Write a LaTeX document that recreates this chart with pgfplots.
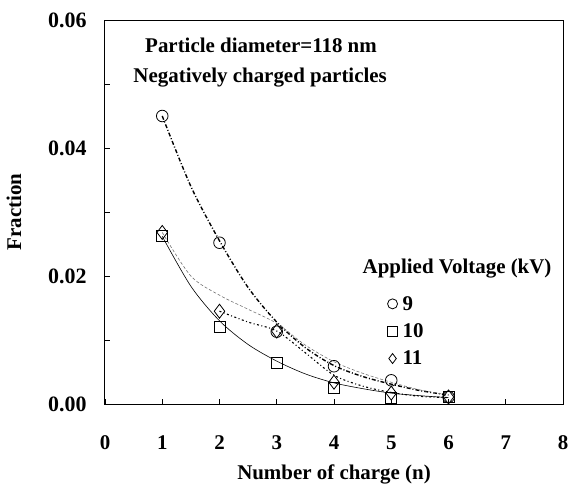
\documentclass[border=0pt]{standalone}
\usepackage{fontspec}
\setmainfont{Liberation Serif}
\usepackage{pgfplots}
\pgfplotsset{compat=1.18}
\begin{document}
\begin{tikzpicture}
\begin{axis}[
  scale only axis,
  width=458bp, height=384bp,
  xmin=0, xmax=8, ymin=0, ymax=0.06,
  axis lines=box,
  clip=false,
  tick align=inside,
  xtick={0,1,...,8},
  ytick={0,0.02,0.04,0.06},
  minor ytick={0.01,0.03,0.05},
  major tick length=5bp, minor tick length=5bp,
  xtick pos=bottom, ytick pos=left,
  tick style={black, line width=0.8pt},
  axis line style={line width=1pt},
  /pgf/number format/assume math mode=true,
  yticklabel style={/pgf/number format/fixed, /pgf/number format/precision=2, /pgf/number format/fixed zerofill, xshift=-15bp, font=\fontsize{22}{24}\selectfont\bfseries},
  scaled y ticks=false,
  xticklabel style={yshift=-28bp, font=\fontsize{21}{24}\selectfont\bfseries},
  xlabel={Number of charge (n)},
  ylabel={Fraction},
  label style={font=\fontsize{21}{24}\selectfont\bfseries},
  xlabel style={yshift=-8bp},
  ylabel style={yshift=20bp},
  legend style={draw=none, fill=none, at={(axis cs:4.88,0.0175)}, anchor=north west,
    font=\fontsize{21}{24}\selectfont\bfseries, row sep=8bp,
    /tikz/every odd column/.append style={column sep=3bp}},
  legend cell align=left,
  legend image post style={mark size=5bp},
  mark options={solid, fill=white, line width=0.8pt},
]
% fitted curves
\addplot[forget plot, black, line width=1.4pt, dash pattern=on 4pt off 2pt on 1pt off 2pt, smooth] coordinates {
 (1,0.045) (1.5,0.034) (2,0.0255) (2.5,0.0182) (3,0.0128) (3.5,0.0088) (4,0.0060) (4.5,0.0043) (5,0.0031) (5.5,0.0021) (6,0.0014)};
\addplot[forget plot, black, line width=0.6pt, smooth] coordinates {
 (1,0.0262) (1.5,0.0184) (2,0.0130) (2.5,0.0093) (3,0.0067) (3.5,0.0047) (4,0.0033) (4.5,0.0024) (5,0.0017) (5.5,0.0013) (6,0.0010)};
\addplot[forget plot, black!55, line width=0.6pt, dash pattern=on 3pt off 2pt, smooth] coordinates {
 (1,0.0268) (1.5,0.0200) (2,0.0170) (2.5,0.0148) (3,0.0126) (3.5,0.0092) (4,0.0066) (4.5,0.0048) (5,0.0034) (5.5,0.0022) (6,0.0014)};
\addplot[forget plot, black, line width=1.1pt, dash pattern=on 2pt off 2.5pt on 1pt off 2.5pt, smooth] coordinates {
 (2,0.0145) (2.5,0.0128) (3,0.0114) (3.5,0.0080) (4,0.0045) (4.5,0.0028) (5,0.0018) (5.5,0.0012) (6,0.0010)};
% data points
\addplot[only marks, mark=o, mark size=5.8bp, black] coordinates {
 (1,0.045) (2,0.0252) (3,0.0113) (4,0.0059) (5,0.0037) (6,0.0011)};
\addlegendentry{9}
\addplot[only marks, mark=square, mark size=5.6bp, black] coordinates {
 (1,0.0263) (2,0.0121) (3,0.0064) (4,0.0025) (5,0.0010) (6,0.0011)};
\addlegendentry{10}
\addplot[only marks, mark=diamond, mark size=7bp, black] coordinates {
 (1,0.0268) (2,0.0145) (3,0.0114) (4,0.0034) (5,0.0017) (6,0.0011)};
\addlegendentry{11}
\node[font=\fontsize{21}{24}\selectfont\bfseries] at (axis cs:2.725,0.0560) {Particle diameter=118 nm};
\node[font=\fontsize{21}{24}\selectfont\bfseries] at (axis cs:2.71,0.0510) {Negatively charged particles};
\node[font=\fontsize{21}{24}\selectfont\bfseries] at (axis cs:6.15,0.0212) {Applied Voltage (kV)};
\coordinate (sw) at (rel axis cs:0,0);
\coordinate (ne) at (rel axis cs:1,1);
\end{axis}
\pgfresetboundingbox
\path ([xshift=-105bp,yshift=-82bp]sw) rectangle ([xshift=7bp,yshift=20bp]ne);
\end{tikzpicture}
\end{document}
